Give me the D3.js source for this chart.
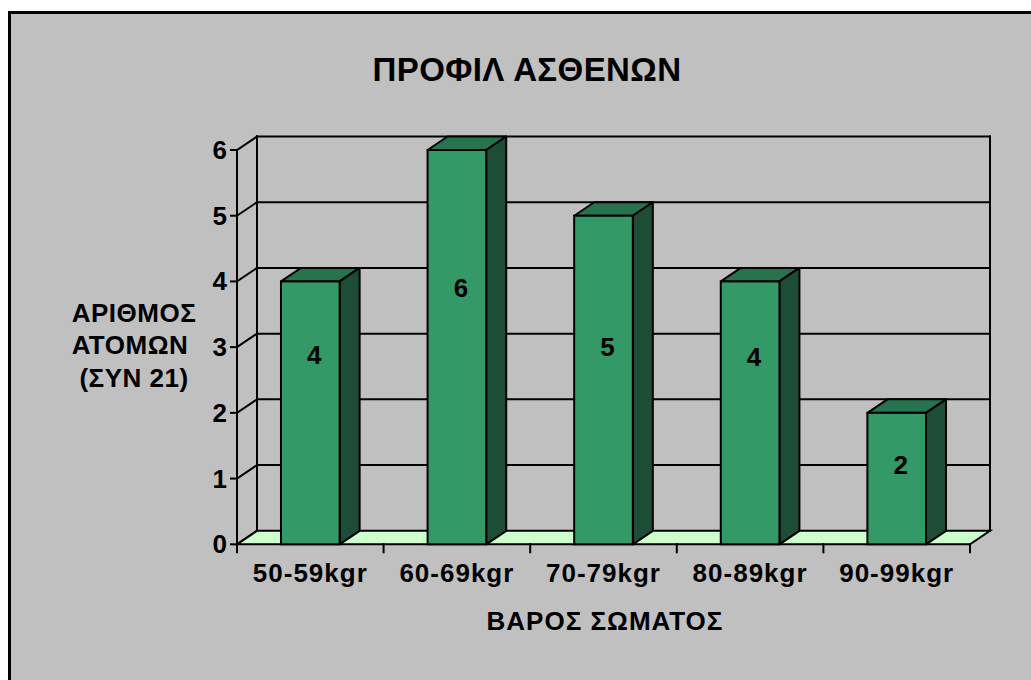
<!DOCTYPE html>
<html>
<head>
<meta charset="utf-8">
<script src="https://cdn.jsdelivr.net/npm/d3@7/dist/d3.min.js"></script>
<style>
  html, body { margin: 0; padding: 0; background: #ffffff; }
  svg { display: block; }
  text { font-family: "Liberation Sans", Arial, sans-serif; font-weight: bold; fill: #000; }
</style>
</head>
<body>
<svg id="chart" width="1031" height="680"></svg>
<script>
// Data
const categories = ["50-59kgr", "60-69kgr", "70-79kgr", "80-89kgr", "90-99kgr"];
const patients = [4, 6, 5, 4, 2];
const yTicks = [0, 1, 2, 3, 4, 5, 6];
const title = "ΠΡΟΦΙΛ ΑΣΘΕΝΩΝ";
const xTitle = "ΒΑΡΟΣ ΣΩΜΑΤΟΣ";
const yTitle = ["ΑΡΙΘΜΟΣ", "ΑΤΟΜΩΝ", "(ΣΥΝ 21)"];

// Layout
const svg = d3.select("#chart");
const front = { left: 237, right: 970, top: 150, bottom: 544.3 };
const depth = { dx: 20, dy: -13.5 };
// vertical placement of the number drawn on each column (px below its top)
const labelDrop = [83, 147, 140, 85, 61];

const colors = {
  bg: "#c0c0c0",
  floor: "#ccffcc",
  barFront: "#339966",
  barTop: "#26734d",
  barSide: "#1d4d36"
};

const x = d3.scaleBand()
  .domain(categories)
  .range([front.left, front.right])
  .paddingInner(0.6)
  .paddingOuter(0.3);

const y = d3.scaleLinear()
  .domain([0, 6])
  .range([front.bottom, front.top]);

// Chart area with heavy frame
svg.append("rect")
  .attr("x", 9.5).attr("y", 12.5)
  .attr("width", 1100).attr("height", 800)
  .attr("fill", colors.bg)
  .attr("stroke", "#000").attr("stroke-width", 3);

const g = svg.append("g");
const line = (x1, y1, x2, y2, w = 2) =>
  g.append("line").attr("x1", x1).attr("y1", y1).attr("x2", x2).attr("y2", y2)
    .attr("stroke", "#000").attr("stroke-width", w).attr("stroke-linecap", "square");

// Back wall gridlines and left-wall connectors
yTicks.forEach(t => {
  const yf = y(t), yb = y(t) + depth.dy;
  if (t > 0) line(front.left + depth.dx, yb, front.right + depth.dx, yb);
  line(front.left, yf, front.left + depth.dx, yb);
  // axis tick
  line(front.left - 6, yf, front.left, yf);
});
// Back wall left & right edges
line(front.left + depth.dx, y(6) + depth.dy, front.left + depth.dx, y(0) + depth.dy);
line(front.right + depth.dx, y(6) + depth.dy, front.right + depth.dx, y(0) + depth.dy);
// Value axis
line(front.left, y(6), front.left, y(0));

// Floor
g.append("polygon")
  .attr("points", [
    [front.left, y(0)], [front.right, y(0)],
    [front.right + depth.dx, y(0) + depth.dy], [front.left + depth.dx, y(0) + depth.dy]
  ].map(p => p.join(",")).join(" "))
  .attr("fill", colors.floor)
  .attr("stroke", "#000").attr("stroke-width", 2).attr("stroke-linejoin", "miter");

// Category ticks along the front edge
const step = x.step();
d3.range(categories.length + 1).forEach(i => {
  const xt = front.left + i * step;
  line(xt, y(0), xt, y(0) + 8);
});

// Columns
const bars = g.selectAll("g.bar").data(categories.map((c, i) => ({ c, v: patients[i], i })))
  .enter().append("g").attr("class", "bar");

bars.each(function (d) {
  const sel = d3.select(this);
  const x0 = x(d.c), w = x.bandwidth();
  const yt = y(d.v), yb = y(0);
  const { dx, dy } = depth;
  const pts = arr => arr.map(p => p.join(",")).join(" ");
  sel.append("polygon")
    .attr("points", pts([[x0, yt], [x0 + dx, yt + dy], [x0 + w + dx, yt + dy], [x0 + w, yt]]))
    .attr("fill", colors.barTop).attr("stroke", "#000").attr("stroke-width", 2).attr("stroke-linejoin", "round");
  sel.append("polygon")
    .attr("points", pts([[x0 + w, yt], [x0 + w + dx, yt + dy], [x0 + w + dx, yb + dy], [x0 + w, yb]]))
    .attr("fill", colors.barSide).attr("stroke", "#000").attr("stroke-width", 2).attr("stroke-linejoin", "round");
  sel.append("rect")
    .attr("x", x0).attr("y", yt).attr("width", w).attr("height", yb - yt)
    .attr("fill", colors.barFront).attr("stroke", "#000").attr("stroke-width", 2);
  sel.append("text")
    .attr("x", x0 + w / 2 + 4)
    .attr("y", yt + labelDrop[d.i])
    .attr("text-anchor", "middle")
    .attr("font-size", 26)
    .text(d.v);
});

// Value axis labels
g.selectAll("text.ytick").data(yTicks).enter().append("text")
  .attr("class", "ytick")
  .attr("x", front.left - 10)
  .attr("y", d => y(d) + 9)
  .attr("text-anchor", "end")
  .attr("font-size", 26)
  .text(d => d);

// Category labels
g.selectAll("text.xtick").data(categories).enter().append("text")
  .attr("class", "xtick")
  .attr("x", d => x(d) + x.bandwidth() / 2)
  .attr("y", 582)
  .attr("text-anchor", "middle")
  .attr("font-size", 26)
  .attr("letter-spacing", 1)
  .text(d => d);

// Titles
svg.append("text")
  .attr("x", 527).attr("y", 80.5)
  .attr("text-anchor", "middle")
  .attr("font-size", 33)
  .attr("letter-spacing", 0.4)
  .text(title);

svg.append("text")
  .attr("x", 605).attr("y", 630)
  .attr("text-anchor", "middle")
  .attr("font-size", 26)
  .attr("letter-spacing", 1)
  .text(xTitle);

svg.append("text")
  .attr("text-anchor", "middle")
  .attr("font-size", 26)
  .attr("letter-spacing", 0.5)
  .selectAll("tspan").data(yTitle).enter().append("tspan")
  .attr("x", (d, i) => i === 1 ? 130 : 134)
  .attr("y", (d, i) => 321.5 + i * 32.6)
  .text(d => d);
</script>
</body>
</html>
